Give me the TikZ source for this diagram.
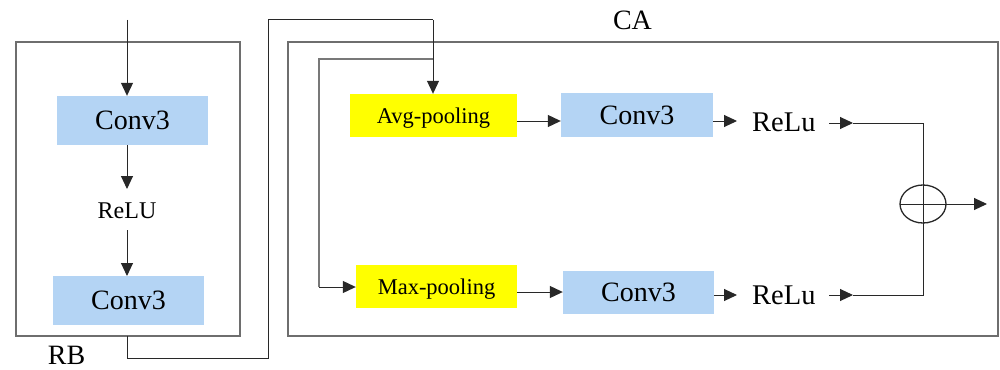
\documentclass[tikz,border=0pt]{standalone}
\usepackage{fontspec}
\setmainfont{Liberation Serif}
\usetikzlibrary{arrows.meta,positioning,calc}
\definecolor{convblue}{RGB}{180,212,244}
\definecolor{poolyellow}{RGB}{255,255,0}
\definecolor{framegray}{RGB}{110,110,110}
\definecolor{linegray}{RGB}{120,120,120}
\definecolor{lineblack}{RGB}{40,40,40}
\tikzset{
  convbox/.style={fill=convblue, inner sep=0pt, font=\fontsize{28}{30}\selectfont},
  poolbox/.style={fill=poolyellow, inner sep=0pt, text depth=0pt, font=\fontsize{22.5}{24}\selectfont},
  lbl/.style={inner sep=0pt, font=\fontsize{28}{30}\selectfont},
  frame/.style={draw=framegray, line width=1.6pt, inner sep=0pt},
  arr/.style={-{Triangle[length=13pt,width=12pt]}, draw=lineblack, line width=1pt},
  ln/.style={draw=lineblack, line width=1pt},
  gln/.style={draw=linegray, line width=1.4pt},
}
\begin{document}
\begin{tikzpicture}[x=1pt,y=-1pt]
\useasboundingbox[fill=white] (0,0) rectangle (1000,369);
% frames
\node[frame, minimum width=224pt, minimum height=294pt] (rb) at (128,189) {};
\node[frame, minimum width=710pt, minimum height=294pt] (ca) at (643,189) {};
\node[lbl, anchor=base] (rblabel) at (66.5,364) {RB};
\node[lbl] (calabel) at (632.5,20) {CA};
% RB contents
\node[convbox, minimum width=151pt, minimum height=49pt] (c1) at (132.5,120.5) {Conv3};
\node[inner sep=0pt, font=\fontsize{24}{26}\selectfont] (relu1) at (127,211) {ReLU};
\node[convbox, minimum width=151pt, minimum height=49pt] (c2) at (128.5,300.5) {Conv3};
\coordinate (in) at (127,20);
\draw[arr] (in) -- (in |- c1.north);
\coordinate (a1s) at (127,145);
\coordinate (a1e) at (127,189);
\draw[arr] (a1s) -- (a1e);
\coordinate (a2s) at (127,230);
\coordinate (a2e) at (127,276);
\draw[arr] (a2s) -- (a2e);
% CA contents
\node[poolbox, minimum width=167pt, minimum height=43pt] (avg) at (433.5,115.5) {Avg-pooling};
\node[poolbox, minimum width=161pt, minimum height=43pt] (max) at (436.5,286.5) {Max-pooling};
\node[convbox, minimum width=152pt, minimum height=44pt] (c3) at (637,115) {Conv3};
\node[convbox, minimum width=151pt, minimum height=43pt] (c4) at (638.5,292.5) {Conv3};
\node[lbl, font=\fontsize{28.5}{30}\selectfont, anchor=west] (r1) at (752,122) {ReLu};
\node[lbl, font=\fontsize{28.5}{30}\selectfont, anchor=west] (r2) at (752,295) {ReLu};
\draw[line width=1.3pt, draw=lineblack] (923,204) ellipse [x radius=23pt, y radius=19pt];
\node[inner sep=0pt, minimum width=46pt, minimum height=38pt] (plus) at (923,204) {};
\draw[ln] (plus.north) -- (plus.south);
\draw[ln] (plus.west) -- (plus.east);
% route RB -> CA
\coordinate (rbout) at (127,336);
\coordinate (k1) at (127,358);
\coordinate (k2) at (268,358);
\coordinate (k3) at (268,20);
\coordinate (k4) at (433,20);
\coordinate (br) at (433,59);
\coordinate (k5) at (319,59);
\coordinate (k6) at (319,287);
\draw[ln] (rbout) -- (k1) -- (k2) -- (k3) -- (k4);
\draw[arr] (k4) -- (k4 |- avg.north);
\draw[gln] (br) -- (k5) -- (k6);
\draw[arr] (k6) -- (k6 -| max.west);
% pooling -> conv
\draw[arr] (avg.east |- 0,121) -- (c3.west |- 0,121);
\draw[arr] (max.east |- 0,292) -- (c4.west |- 0,292);
% conv -> relu
\coordinate (e1) at (737,121);
\coordinate (e2) at (737,295);
\draw[arr] (c3.east |- e1) -- (e1);
\draw[arr] (c4.east |- e2) -- (e2);
% relu -> plus
\coordinate (f1s) at (829,123);
\coordinate (f1e) at (853,123);
\coordinate (f2s) at (829,295);
\coordinate (f2e) at (853,295);
\draw[arr] (f1s) -- (f1e);
\draw[arr] (f2s) -- (f2e);
\draw[ln] (f1e) -| (plus.north);
\draw[ln] (f2e) -| (plus.south);
\coordinate (out) at (987,204);
\draw[arr] (plus.east) -- (out);
\end{tikzpicture}
\end{document}
